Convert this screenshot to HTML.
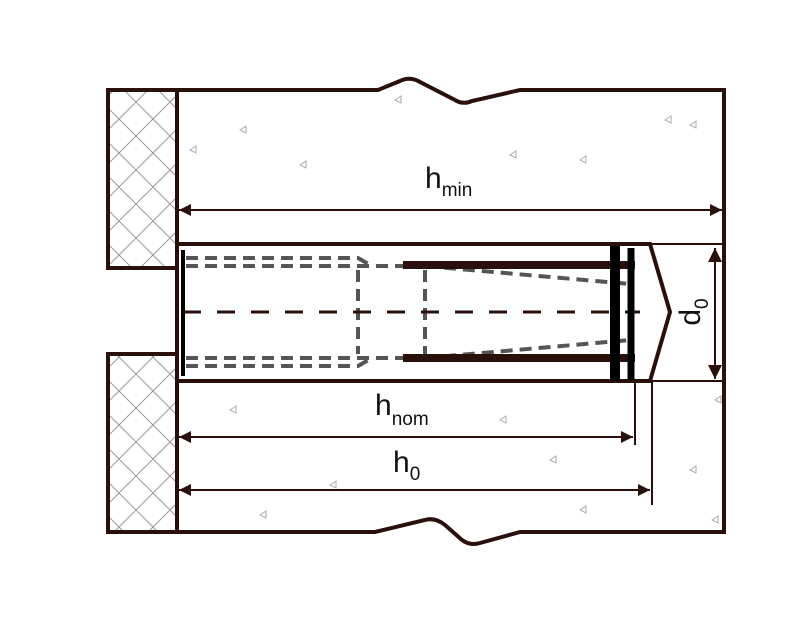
<!DOCTYPE html><html><head><style>body{margin:0;background:#fff}svg{display:block}text{font-family:"Liberation Sans",sans-serif;fill:#111}</style></head><body>
<svg width="800" height="640" viewBox="0 0 800 640">
<defs>
<pattern id="h" width="34" height="34" patternUnits="userSpaceOnUse"><path d="M0 0L34 34M34 0L0 34" stroke="#999" stroke-width="1"/></pattern>
<marker id="b" viewBox="0 0 10 10" refX="10" refY="5" markerWidth="26" markerHeight="12" orient="auto-start-reverse" markerUnits="userSpaceOnUse"><path d="M0 0L10 5L0 10z" fill="#2a100a"/></marker>
<marker id="c" viewBox="0 0 10 10" refX="10" refY="5" markerWidth="30" markerHeight="14" orient="auto-start-reverse" markerUnits="userSpaceOnUse"><path d="M0 0L10 5L0 10z" fill="#2a100a"/></marker>
</defs>
<g stroke="#2a100a" fill="none">
<rect x="108" y="90" width="69" height="178" fill="url(#h)" stroke-width="4"/>
<rect x="108" y="354" width="69" height="178" fill="url(#h)" stroke-width="4"/>
<path d="M177 90H378L400 81Q410 76 420 82L455 100Q463 105 472 101L520 90H724V532H520L480 543Q470 546 462 540L445 525Q435 517 425 520L375 532H177V90" stroke-width="4"/>
<path d="M177 244H650L670 312L650 381H177" stroke-width="4" fill="#fff"/>
<path d="M177 244V381" stroke-width="4"/>
<path d="M650 244H724M650 381H724" stroke-width="2"/>
<path d="M183 250V376" stroke="#000" stroke-width="4"/>
<g stroke="#555" stroke-width="4" stroke-dasharray="12 7">
<path d="M186 258H358L372 266"/><path d="M186 266H630"/>
<path d="M186 366H358L372 358"/><path d="M186 358H630"/>
<path d="M358 270V354M425 270V354"/>
<path d="M425 266L630 284M425 358L630 340"/>
</g>
<path d="M183 312H640" stroke-width="3" stroke-dasharray="18 16"/>
<path d="M403 265H635M403 358H635" stroke-width="8"/>
<path d="M615 246V381" stroke="#000" stroke-width="10"/>
<path d="M631 248V380" stroke="#000" stroke-width="7"/>
<path d="M635 381V445M652 381V505" stroke-width="2"/>
<path d="M179 210H722" stroke-width="2" marker-start="url(#b)" marker-end="url(#b)"/>
<path d="M179 437H633" stroke-width="2" marker-start="url(#b)" marker-end="url(#b)"/>
<path d="M179 490H650" stroke-width="2" marker-start="url(#b)" marker-end="url(#b)"/>
<path d="M715 248V379" stroke-width="2" marker-start="url(#c)" marker-end="url(#c)"/>
</g>
<g fill="none" stroke="#aaa" stroke-width="1">
<path d="M190 150l6 -4l0 7z M240 130l6-4l0 7z M300 165l6-4l0 7z M395 100l6-4l0 7z M510 155l6-4l0 7z M580 160l6-4l0 7z M665 120l6-4l0 7z M690 125l6-4l0 7z M230 410l6-4l0 7z M500 420l6-4l0 7z M690 470l6-4l0 7z M550 460l6-4l0 7z M260 515l6-4l0 7z M580 510l6-4l0 7z M330 485l6-4l0 7z M712 520l6-4l0 7z M715 400l6-4l0 7z"/>
</g>
<text x="425" y="188" font-size="30">h<tspan font-size="19" dy="8">min</tspan></text>
<text x="375" y="415" font-size="30">h<tspan font-size="19" dy="10">nom</tspan></text>
<text x="393" y="472" font-size="30">h<tspan font-size="19" dy="8">0</tspan></text>
<text transform="translate(700,312) rotate(-90)" font-size="30" text-anchor="middle">d<tspan font-size="19" dy="8">0</tspan></text>
</svg></body></html>
